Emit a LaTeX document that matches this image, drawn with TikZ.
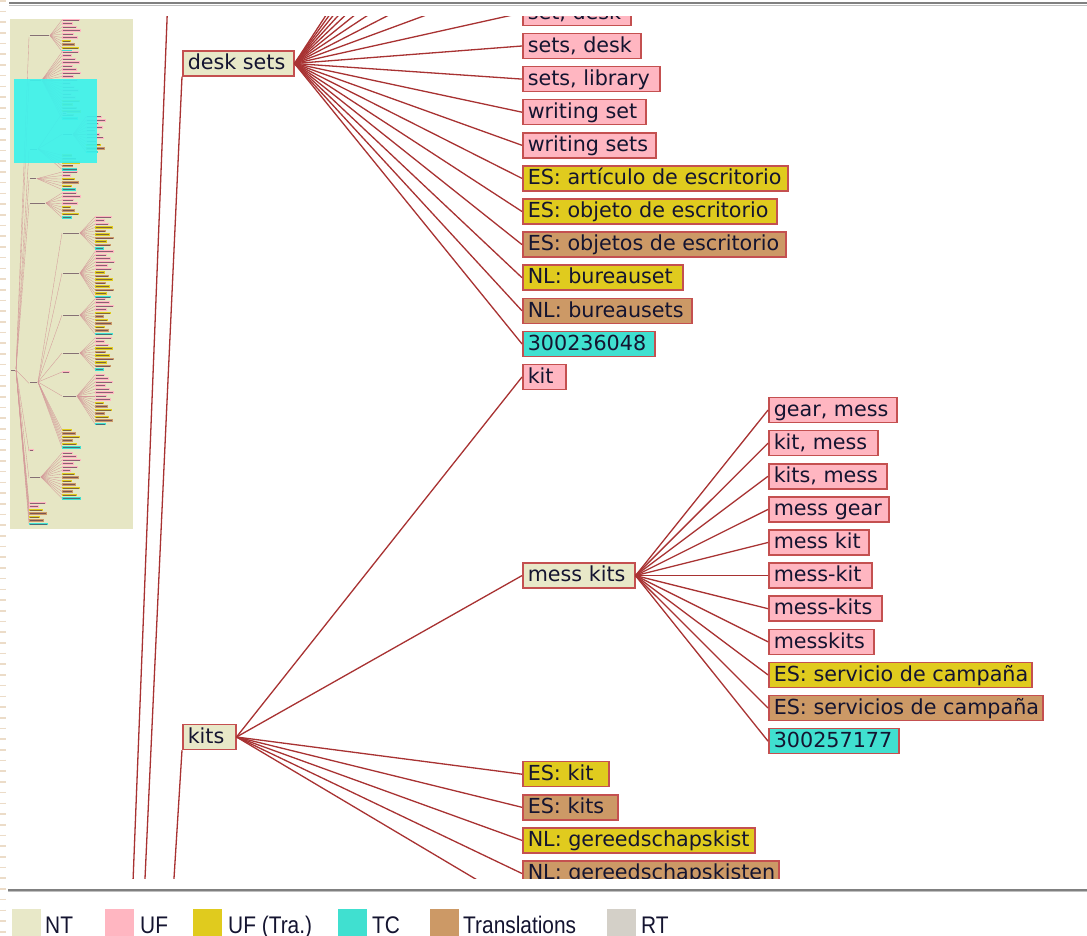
\documentclass[tikz,border=0pt]{standalone}
\usepackage{fontspec}
\setmainfont{DejaVu Sans}
\newfontfamily\legfont{Liberation Sans}
\definecolor{ntc}{HTML}{E8E8C8}
\definecolor{ufc}{HTML}{FFB6C1}
\definecolor{uftc}{HTML}{E0CB1E}
\definecolor{tcc}{HTML}{40E0D0}
\definecolor{trc}{HTML}{CC9966}
\definecolor{rtc}{HTML}{D4D0C8}
\definecolor{bord}{HTML}{C45050}
\definecolor{edgec}{HTML}{A83232}
\definecolor{txtc}{HTML}{141430}
\definecolor{minibg}{HTML}{E6E6C4}
\definecolor{cyanov}{HTML}{3CF2EC}
\definecolor{stripc}{HTML}{ECDCC8}
\definecolor{minil}{HTML}{D49A9A}
\definecolor{minit}{HTML}{503048}
\colorlet{P}{ufc}\colorlet{Y}{uftc}\colorlet{B}{trc}\colorlet{C}{tcc}\colorlet{N}{ntc}
\tikzset{
 tbox/.style={draw=bord, line width=1.5pt, anchor=west, minimum height=25pt, inner xsep=5pt, inner ysep=0pt, text height=16.5pt, text depth=4pt, font=\fontsize{20.7}{22}\selectfont, text=txtc},
 nt/.style={tbox, fill=ntc}, uf/.style={tbox, fill=ufc}, uft/.style={tbox, fill=uftc},
 tc/.style={tbox, fill=tcc}, tr/.style={tbox, fill=trc},
 edge/.style={draw=edgec, line width=1.3pt},
 mline/.style={draw=minil, line width=0.35pt},
 mtxt/.style={draw=minit, line width=0.8pt, opacity=0.65},
 legsq/.style={inner sep=0pt, minimum width=29pt, minimum height=27pt, anchor=north west},
 legtx/.style={inner sep=0pt, anchor=base west, text=txtc, font=\legfont\fontsize{24}{26}\selectfont},
}
\newcommand\tn[6]{\node[#1, minimum width=#5pt] (#2) at (#3,#4) {\makebox[\dimexpr #5pt-10pt\relax][l]{#6}};}
\newcommand\mbar[4]{\fill[#4] (#1,#2-1.35) rectangle ++(#3,2.7);\draw[mtxt] (#1+0.7,#2) -- ++(#3-1.4,0);}
\newcommand\mfan[5]{\foreach \cc [count=\i from 0] in {#5}{%
  \pgfmathsetmacro\yy{#4+\i*3.5}\pgfmathsetmacro\ww{9+mod(\i*37+#4,11)}%
  \draw[mline] (#1,#2) -- (#3,\yy);\mbar{#3}{\yy}{\ww}{\cc}}}
\newcommand\leg[1]{\scalebox{0.87}[1]{#1}}
\begin{document}
\begin{tikzpicture}[x=1pt,y=-1pt]
\useasboundingbox (0,0) rectangle (1087,936);
\fill[white] (0,0) rectangle (1087,936);
% left strip
\draw[stripc, line width=6pt, dash pattern=on 1.6pt off 9.1pt] (3,0) -- (3,936);
% separators
\draw[line width=2pt, color=black!50] (9,3.5) -- (1087,3.5);
\draw[line width=1pt, color=black!25] (9,5.2) -- (1087,5.2);
\draw[line width=2pt, color=black!50] (8,890) -- (1087,890);
\draw[line width=1pt, color=black!25] (8,891.7) -- (1087,891.7);

% ---------- main tree ----------
\begin{scope}
\clip (118,17) rectangle (1087,878);
\coordinate (root) at (63,2656);
\coordinate (upper) at (182,-360);
\tn{nt}{desk}{182}{63.5}{111}{desk sets}
\tn{nt}{kits}{182}{737}{53}{kits}
\draw[edge] (root) -- (upper);
\draw[edge] (root) -- (desk.south west);
\draw[edge] (root) -- (kits.south west);
% desk sets children
\foreach \k in {2,...,10}{\coordinate (du\k) at (522,46-33.1*\k);\draw[edge] (desk.east) -- (du\k);}
\tn{uf}{d0}{522}{12.9}{108}{set, desk}
\tn{uf}{d1}{522}{46}{118}{sets, desk}
\tn{uf}{d2}{522}{79.1}{137}{sets, library}
\tn{uf}{d3}{522}{112.2}{123}{writing set}
\tn{uf}{d4}{522}{145.3}{133}{writing sets}
\tn{uft}{d5}{522}{178.4}{265}{ES: artículo de escritorio}
\tn{uft}{d6}{522}{211.5}{254}{ES: objeto de escritorio}
\tn{tr}{d7}{522}{244.6}{263}{ES: objetos de escritorio}
\tn{uft}{d8}{522}{277.7}{160}{NL: bureauset}
\tn{tr}{d9}{522}{310.8}{169}{NL: bureausets}
\tn{tc}{d10}{522}{343.9}{132}{300236048}
\foreach \n in {d0,d1,d2,d3,d4,d5,d6,d7,d8,d9,d10}{\draw[edge] (desk.east) -- (\n.west);}
% kits children
\tn{uf}{k1}{522}{377}{43}{kit}
\tn{nt}{mess}{522}{575.6}{112}{mess kits}
\tn{uft}{k3}{522}{774.2}{86}{ES: kit}
\tn{tr}{k4}{522}{807.3}{95}{ES: kits}
\tn{uft}{k5}{522}{840.4}{232}{NL: gereedschapskist}
\tn{tr}{k6}{522}{873.5}{256}{NL: gereedschapskisten}
\coordinate (k7) at (522,906.6);
\foreach \n in {k1,mess,k3,k4,k5,k6}{\draw[edge] (kits.east) -- (\n.west);}
\draw[edge] (kits.east) -- (k7);
% mess kits children
\tn{uf}{m1}{768}{410.1}{128}{gear, mess}
\tn{uf}{m2}{768}{443.2}{109}{kit, mess}
\tn{uf}{m3}{768}{476.3}{118}{kits, mess}
\tn{uf}{m4}{768}{509.4}{120}{mess gear}
\tn{uf}{m5}{768}{542.5}{100}{mess kit}
\tn{uf}{m6}{768}{575.6}{103}{mess-kit}
\tn{uf}{m7}{768}{608.7}{113}{mess-kits}
\tn{uf}{m8}{768}{641.8}{105}{messkits}
\tn{uft}{m9}{768}{674.9}{263}{ES: servicio de campaña}
\tn{tr}{m10}{768}{708}{274}{ES: servicios de campaña}
\tn{tc}{m11}{768}{741.1}{130}{300257177}
\foreach \n in {m1,m2,m3,m4,m5,m6,m7,m8,m9,m10,m11}{\draw[edge] (mess.east) -- (\n.west);}
\end{scope}

% ---------- mini map ----------
\fill[minibg] (10,19) rectangle (133,529);
% root edges
\foreach \yy in {36.85,81.35,150.35,179.95,204.35,383.35,451.35,478.35}{\draw[mline] (16,370) -- (29,\yy);}
\mbar{10.5}{370}{5}{N}
% a
\mbar{29}{35.5}{21}{N}\mfan{50}{35.5}{62}{20}{P,P,P,P,P,P,Y,B,Y,C}
% b desk sets
\mbar{29}{80}{13}{N}\mfan{42}{80}{62}{52}{P,P,P,P,P,P,P,P,P,P,P,P,P,P,Y,Y,B,Y,B,C}
% c kits
\mbar{29}{149}{9}{N}
\draw[mline] (38,149) -- (62,113.4);\draw[mline] (38,149) -- (62,134.4);
\mbar{62}{113.4}{5}{P}
\mbar{62}{134.4}{11}{N}\mfan{73}{134.4}{86}{116.9}{P,P,P,P,P,P,P,P,Y,B,C}
\mfan{38}{149}{62}{155.4}{Y,B,Y,B,C}
% d, e
\mbar{29}{178.6}{8}{N}\mfan{37}{178.6}{62}{172}{P,P,Y,B,Y,C}
\mbar{29}{203}{17}{N}\mfan{46}{203}{62}{193}{P,P,P,P,Y,B,Y,C}
% f
\mbar{29}{382}{9}{N}
\foreach \yy in {233,273,315,353,372,396}{\draw[mline] (38,382) -- (62,\yy);}
\mbar{62}{233}{18}{N}\mfan{80}{233}{95}{217}{P,P,P,Y,B,Y,B,Y,B,C}
\mbar{62}{273}{18}{N}\mfan{80}{273}{95}{251.5}{P,P,P,P,P,P,Y,B,Y,B,Y,B,Y,C}
\mbar{62}{315}{18}{N}\mfan{80}{315}{95}{299}{P,P,P,P,Y,B,Y,B,Y,B,C}
\mbar{62}{353}{18}{N}\mfan{80}{353}{95}{338}{P,P,P,Y,B,Y,B,Y,B,C}
\mbar{62}{372}{8}{P}
\mbar{62}{396}{15}{N}\mfan{77}{396}{95}{375}{P,P,P,P,P,P,P,P,Y,B,Y,B,Y,B,C}
\mfan{38}{382}{62}{430}{Y,B,Y,B,Y,C}
% g, h, i
\mbar{29}{450}{5}{P}
\mbar{29}{477}{12}{N}\mfan{41}{477}{62}{453}{P,P,P,P,P,P,Y,B,Y,B,Y,B,Y,C}
\mfan{16}{370}{29}{503}{P,P,Y,B,Y,B,C}
% view rectangle
\fill[cyanov, opacity=0.92] (14,79) rectangle (97,163);

% ---------- legend ----------
\node[legsq, fill=ntc] (lnt) at (12,909) {};
\node[legtx] (tnt) at (45,933) {\leg{NT}};
\node[legsq, fill=ufc] (luf) at (105,909) {};
\node[legtx] (tuf) at (140,933) {\leg{UF}};
\node[legsq, fill=uftc] (luft) at (193,909) {};
\node[legtx] (tuft) at (228,933) {\leg{UF (Tra.)}};
\node[legsq, fill=tcc] (ltc) at (338,909) {};
\node[legtx] (ttc) at (372,933) {\leg{TC}};
\node[legsq, fill=trc] (ltr) at (430,909) {};
\node[legtx] (ttr) at (463,933) {\leg{Translations}};
\node[legsq, fill=rtc] (lrt) at (607,909) {};
\node[legtx] (trt) at (641,933) {\leg{RT}};
\end{tikzpicture}
\end{document}
